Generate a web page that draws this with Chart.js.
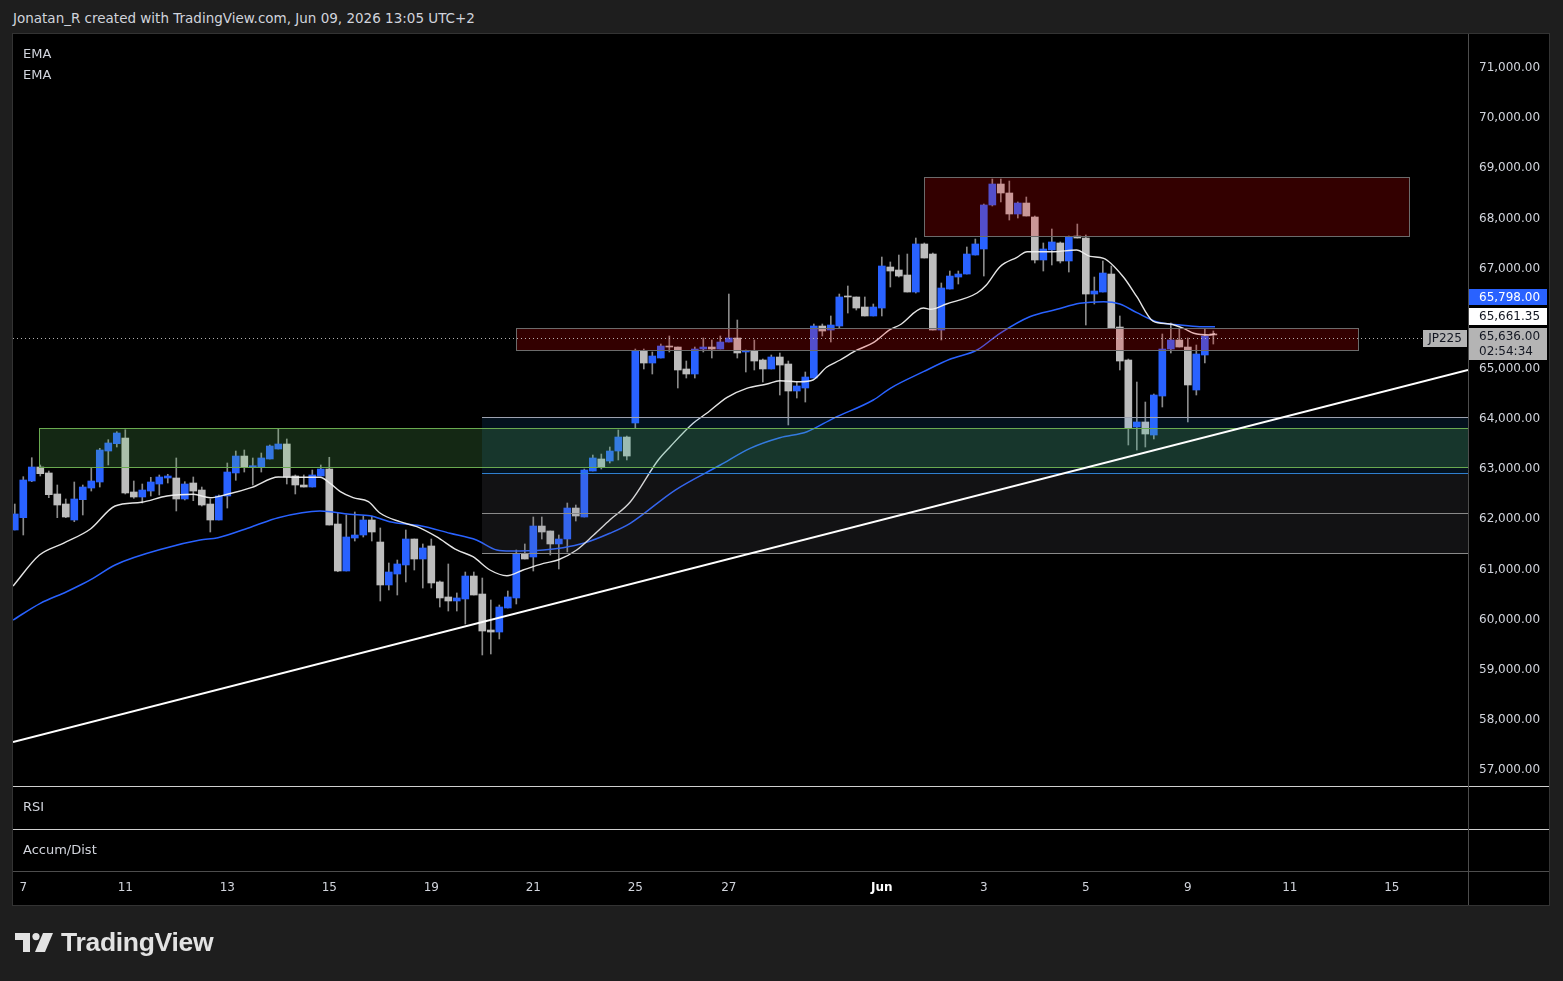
<!DOCTYPE html>
<html>
<head>
<meta charset="utf-8">
<script src="https://cdn.jsdelivr.net/npm/chart.js@4.4.1/dist/chart.umd.min.js"></script>
<style>
  html, body { margin: 0; padding: 0; width: 1563px; height: 981px; overflow: hidden; background: #1e1e1e; font-family: "DejaVu Sans", sans-serif; }
  #frame { position: absolute; left: 12px; top: 33px; width: 1538px; height: 873px; box-sizing: border-box; border: 1px solid #333; background: #000; }
  #wrap { position: absolute; left: 13px; top: 34px; width: 1536px; height: 871px; }
  .txt { position: absolute; color: #d1d4dc; font-size: 13px; line-height: 15px; white-space: nowrap; }
  #header { left: 13px; top: 11px; font-size: 13.5px; color: #d1d4dc; }
  #logo { position: absolute; left: 15px; top: 933px; }
  #logoText { position: absolute; left: 61px; top: 927px; font-family: "Liberation Sans", sans-serif; font-weight: bold; font-size: 26.5px; line-height: 31px; color: #e3e3e3; letter-spacing: -0.3px; }
</style>
</head>
<body>
<div id="header" class="txt">Jonatan_R created with TradingView.com, Jun 09, 2026 13:05 UTC+2</div>
<div id="frame"></div>
<div id="wrap"><canvas id="chart" width="1536" height="871"></canvas></div>
<div class="txt" style="left:23px; top:46px;">EMA</div>
<div class="txt" style="left:23px; top:67px;">EMA</div>
<div class="txt" style="left:23px; top:799px;">RSI</div>
<div class="txt" style="left:23px; top:842px;">Accum/Dist</div>
<svg id="logo" width="40" height="20" viewBox="0 0 40 20">
  <path d="M0 0 H15 V19 H8 V7 H0 Z" fill="#e3e3e3"/>
  <circle cx="21" cy="3.6" r="3.6" fill="#e3e3e3"/>
  <path d="M28 0 H38 L30 19 H20 Z" fill="#e3e3e3"/>
</svg>
<div id="logoText">TradingView</div>

<script>
// Kerzen (4h), Index = Position auf der Zeitachse
const candleOpen = [61746, 61991, 62723, 63002, 62883, 62464, 62264, 61945, 62350, 62583,
  62703, 63321, 63467, 63580, 62504, 62404, 62523, 62663, 62783, 62783,
  62364, 62683, 62543, 62264, 61945, 62424, 62883, 63221, 63002, 63002,
  63162, 63361, 63461, 62823, 62643, 62603, 62823, 62962, 61865, 60928,
  61586, 61646, 61945, 61506, 60649, 60868, 61048, 61566, 61167, 61427,
  60709, 60410, 60330, 60370, 60828, 60469, 59751, 59711, 60190, 60390,
  61267, 61207, 61825, 61726, 61467, 61566, 62184, 62005, 62922, 63162,
  63122, 63321, 63600, 63880, 65316, 65076, 65176, 65415, 65395, 64957,
  64857, 65355, 65395, 65355, 65495, 65575, 65296, 65316, 65136, 64957,
  65196, 65056, 64518, 64578, 64777, 65814, 65734, 65814, 66413, 66393,
  66193, 66014, 66173, 66991, 66931, 66831, 66492, 67450, 67250, 65734,
  66552, 66791, 66851, 67230, 67350, 68228, 68646, 68467, 68048, 68267,
  67988, 67131, 67330, 67470, 67111, 67609, 67569, 66452, 66492, 66851,
  65794, 65136, 63800, 63900, 63640, 64418, 65355, 65535, 65395, 64538,
  65236, 65650];
const candleHigh = [62264, 62809, 63188, 63042, 62922, 62643, 62364, 62703, 62643, 62988,
  63375, 63547, 63706, 63746, 62723, 62663, 62797, 62843, 62857, 63182,
  62709, 62803, 62603, 62364, 62444, 63082, 63321, 63341, 63182, 63281,
  63441, 63760, 63561, 62843, 62843, 62942, 63042, 63196, 62085, 62045,
  62105, 62025, 62025, 61786, 61088, 61147, 61746, 61566, 61467, 61566,
  60729, 61068, 60490, 60908, 60908, 60788, 60350, 60250, 60529, 61347,
  61467, 62005, 62005, 61726, 61646, 62284, 62244, 62962, 63241, 63261,
  63401, 63740, 63620, 65355, 65355, 65296, 65455, 65615, 65395, 65116,
  65395, 65575, 65535, 65615, 66452, 65934, 65336, 65535, 65156, 65236,
  65276, 65116, 64697, 64897, 65854, 65854, 66014, 66452, 66612, 66393,
  66393, 66253, 67190, 67091, 67230, 67250, 67569, 67470, 67270, 66672,
  66911, 66911, 67390, 67549, 68247, 68746, 68746, 68706, 68288, 68387,
  68008, 67470, 67749, 67490, 67609, 67848, 67629, 66791, 67111, 67011,
  66014, 65156, 64697, 64298, 64458, 65655, 65874, 65754, 65575, 65435,
  65754, 65715];
const candleLow = [61746, 61646, 62709, 62823, 62390, 61991, 61991, 61911, 62045, 62523,
  62603, 63042, 63401, 62464, 62378, 62284, 62424, 62444, 62683, 62125,
  62344, 62330, 62224, 61706, 61945, 62184, 62737, 62902, 62643, 62902,
  63162, 63361, 62663, 62464, 62603, 62603, 62823, 61845, 60914, 60928,
  61526, 61606, 61526, 60330, 60549, 60449, 60709, 60948, 60589, 60589,
  60210, 60130, 60130, 59871, 60449, 59253, 59273, 59572, 60190, 60270,
  61167, 60928, 61566, 61247, 60968, 61307, 61925, 62005, 62922, 62962,
  63082, 63142, 63142, 63780, 64957, 64857, 65176, 65296, 64578, 64777,
  64777, 65296, 65176, 65355, 65495, 65176, 64897, 64937, 64697, 64957,
  64438, 63840, 64378, 64298, 64777, 65615, 65495, 65774, 66073, 66133,
  66014, 66014, 66014, 66592, 66791, 66492, 66472, 67170, 65734, 65535,
  66552, 66652, 66851, 67230, 66811, 68208, 68288, 67928, 67968, 68008,
  67071, 66911, 67031, 67071, 66891, 67569, 65834, 66253, 66492, 65774,
  64937, 63441, 63341, 63401, 63561, 64199, 65276, 65395, 63900, 64438,
  65076, 65455];
const candleClose = [62065, 62743, 63002, 62869, 62450, 62244, 62005, 62364, 62603, 62723,
  63341, 63481, 63680, 62484, 62404, 62543, 62703, 62803, 62823, 62364,
  62663, 62523, 62244, 61945, 62424, 62902, 63221, 63002, 63028, 63182,
  63421, 63461, 62803, 62643, 62603, 62843, 62962, 61845, 60928, 61606,
  61646, 61945, 61706, 60649, 60908, 61068, 61566, 61167, 61387, 60689,
  60390, 60330, 60390, 60828, 60449, 59731, 59711, 60210, 60410, 61267,
  61167, 61825, 61706, 61467, 61566, 62184, 62025, 62942, 63182, 63002,
  63321, 63600, 63221, 65316, 65076, 65216, 65415, 65395, 64937, 64857,
  65355, 65395, 65355, 65495, 65575, 65276, 65316, 65116, 64957, 65196,
  65036, 64518, 64618, 64797, 65814, 65714, 65834, 66393, 66393, 66173,
  66014, 66193, 67011, 66911, 66811, 66492, 67450, 67170, 65734, 66572,
  66811, 66851, 67250, 67450, 68228, 68646, 68467, 68048, 68267, 68008,
  67131, 67350, 67490, 67111, 67589, 67569, 66452, 66512, 66871, 65774,
  65116, 63780, 63900, 63660, 64438, 65355, 65535, 65395, 64638, 65256,
  65615, 65636];

// EMA-Linien (x = Kerzenindex)
const emaFastX = [-0.2, 2.9, 5.7, 8.9, 11.8, 14.9, 17.9, 21, 23, 25, 27.9, 31, 33, 35.9, 37.1, 38.3,
  39.8, 41.6, 43, 45.3, 47.3, 49.6, 52, 53.9, 55.9, 57.9, 59.8, 62.2, 63.9, 66.1, 68.1, 70, 72.4,
  75.7, 77.1, 79.8, 81.4, 83.8, 86.1, 88.5, 90, 92.4, 93.9, 95.5, 97.1, 99.1, 101, 103, 104.1,
  106.9, 107.7, 109.6, 113.2, 114.3, 115.9, 117.9, 119.1, 122.2, 124.9, 126.5, 128.1, 130.4, 132,
  133.9, 135.9, 137.5, 138.7, 140.6, 141.2];
const emaFastY = [60629, 61247, 61480, 61766, 62224, 62298, 62424, 62458, 62390, 62458, 62597, 62803,
  62797, 62797, 62677, 62510, 62390, 62310, 62079, 61911, 61812, 61612, 61347, 61213, 60948, 60834,
  60948, 61081, 61147, 61347, 61646, 61945, 62304, 63142, 63407, 63874, 64073, 64392, 64572, 64658,
  64723, 64703, 64737, 64991, 65136, 65336, 65481, 65748, 65834, 66173, 66147, 66253, 66472, 66632,
  66997, 67184, 67296, 67296, 67330, 67204, 67164, 66797, 66399, 65914, 65854, 65768, 65669, 65635,
  65661];
const emaSlowX = [-0.2, 3, 6.1, 7.9, 9.2, 11.8, 17.9, 21.8, 23.9, 27.9, 31, 35.9, 39.4, 41.8, 44.1,
  47.7, 51.2, 54.3, 56.7, 58.3, 62.2, 64.5, 66.9, 70, 72.4, 77.7, 83, 86.5, 90, 93.2, 96.3, 101, 103,
  106.9, 110, 113.2, 115.9, 119.4, 122.6, 125.3, 128.1, 130, 132, 134.3, 137.1, 139.4, 141.2];
const emaSlowY = [59951, 60284, 60515, 60663, 60782, 61048, 61393, 61546, 61592, 61812, 61991, 62125,
  62059, 62031, 61911, 61831, 61680, 61546, 61347, 61327, 61347, 61393, 61480, 61680, 61879, 62543,
  63042, 63375, 63587, 63706, 63973, 64338, 64572, 64903, 65150, 65336, 65669, 66000, 66147, 66267,
  66299, 66253, 66080, 65900, 65834, 65800, 65798];

// Trendlinie
const trendX = [-0.21, 170.96];
const trendY = [57518, 64937];

// Zonen: oben rot, Mitte rot, grün
const boxStart = [106.96, 59.02, 2.85];
const boxEnd = [164.07, 158.02, 171];
const boxHigh = [68786, 65774, 63780];
const boxLow = [67609, 65336, 63002];

// graue Ebenen rechts
const levelStart = 54.96;
const levelPrices = [64000, 62883, 62085, 61287];

// Achsen
const priceTicks = [57000, 58000, 59000, 60000, 61000, 62000, 63000, 64000, 65000, 66000, 67000, 68000, 69000, 70000, 71000];
const dayTickIndex = [1, 13, 25, 37, 49, 61, 73, 84, 102, 114, 126, 138, 150, 162];
const dayTickLabels = ['7', '11', '13', '15', '19', '21', '25', '27', 'Jun', '3', '5', '9', '11', '15'];

// Preis-Labels rechts
const lastPrice = 65636;
const emaFastLast = 65661.35;
const emaSlowLast = 65798;
const countdown = '02:54:34';
const symbol = 'JP225';

const X_MIN = -0.21, X_MAX = 170.96;
const Y_MIN = 56640, Y_MAX = 71638;
const LABEL_SHIFT = 2; // Textlabels sitzen etwas unter dem Preis
const UP = '#2962ff', DOWN = '#bdbdbd', WICK = '#8a8a8a';
const FONT = '"DejaVu Sans", sans-serif';

const fmt = (v, d = 2) => Number(v).toLocaleString('en-US', { minimumFractionDigits: d, maximumFractionDigits: d });

const bodyData = candleOpen.map((o, i) => ({ x: i, y: [o, candleClose[i]] }));
const wickData = candleOpen.map((o, i) => ({ x: i, y: [candleLow[i], candleHigh[i]] }));
const bodyColors = candleOpen.map((o, i) => candleClose[i] >= o ? UP : DOWN);
const pts = (xs, ys) => xs.map((x, i) => ({ x: x, y: ys[i] }));

function hLine(ctx, x0, x1, y, color, dash) {
  ctx.save();
  ctx.strokeStyle = color;
  ctx.lineWidth = 1;
  if (dash) ctx.setLineDash(dash);
  const yy = Math.round(y) + 0.5;
  ctx.beginPath(); ctx.moveTo(x0, yy); ctx.lineTo(x1, yy); ctx.stroke();
  ctx.restore();
}

function drawZones(chart) {
  const { ctx, chartArea: a, scales: { x, y } } = chart;
  ctx.save();
  ctx.beginPath(); ctx.rect(a.left, a.top, a.right - a.left, a.bottom - a.top); ctx.clip();

  // graue Ebenen
  const lx = Math.round(x.getPixelForValue(levelStart));
  const ly = levelPrices.map(p => Math.round(y.getPixelForValue(p)));
  ctx.fillStyle = 'rgba(33,150,243,0.12)';
  ctx.fillRect(lx, ly[0], a.right - lx, ly[1] - ly[0]);
  ctx.fillStyle = 'rgba(120,123,134,0.15)';
  ctx.fillRect(lx, ly[1], a.right - lx, ly[3] - ly[1]);
  const levelColors = ['#9ea2b0', '#2f7fd0', '#8a8a8a', '#8a8a8a'];
  ly.forEach((yy, i) => hLine(ctx, lx, a.right, yy, levelColors[i]));

  // Rechtecke (grün zuerst, dann rot)
  const fills = ['rgba(255,0,0,0.2)', 'rgba(255,0,0,0.2)', 'rgba(100,200,100,0.2)'];
  const strokes = ['#6b6b6b', '#6b6b6b', '#6aaa50'];
  [2, 1, 0].forEach(i => {
    const x0 = Math.round(x.getPixelForValue(boxStart[i]));
    const x1 = Math.round(x.getPixelForValue(boxEnd[i]));
    const y0 = Math.round(y.getPixelForValue(boxHigh[i]));
    const y1 = Math.round(y.getPixelForValue(boxLow[i]));
    ctx.fillStyle = fills[i];
    ctx.fillRect(x0, y0, x1 - x0, y1 - y0);
    ctx.strokeStyle = strokes[i];
    ctx.lineWidth = 1;
    ctx.strokeRect(x0 + 0.5, y0 + 0.5, x1 - x0, y1 - y0);
  });

  // gepunktete Linie des letzten Kurses
  const py = y.getPixelForValue(lastPrice) + LABEL_SHIFT + 1;
  hLine(ctx, a.left, a.right - 45, py, 'rgba(210,210,210,0.85)', [1, 3]);
  ctx.restore();
}

function tag(ctx, x0, w, yTop, h, bg, fg, lines) {
  ctx.fillStyle = bg;
  ctx.fillRect(x0, yTop, w, h);
  ctx.fillStyle = fg;
  ctx.font = '12px ' + FONT;
  ctx.textBaseline = 'middle';
  ctx.textAlign = 'left';
  lines.forEach((t, i) => ctx.fillText(t, x0 + 10, yTop + 8.5 + i * 15));
}

const overlayPlugin = {
  id: 'overlay',
  afterDatasetDraw(chart, args) {
    if (args.index === 1) drawZones(chart);
  },
  afterDraw(chart) {
    const { ctx, chartArea: a, scales: { y } } = chart;
    const W = chart.width, H = chart.height;
    // Trennlinien der Unterfenster
    ctx.save();
    hLine(ctx, 0, W, a.bottom, '#cfcfcf');
    hLine(ctx, 0, W, a.bottom + 43, '#cfcfcf');
    hLine(ctx, 0, W, a.bottom + 85, '#4d4d4d');
    ctx.strokeStyle = '#4d4d4d';
    ctx.beginPath(); ctx.moveTo(a.right + 0.5, 0); ctx.lineTo(a.right + 0.5, H); ctx.stroke();

    // Preis-Labels, von unten nach oben gestapelt
    const x0 = a.right + 1, w = 78;
    const lastY = Math.round(y.getPixelForValue(lastPrice)) + LABEL_SHIFT;
    const greyTop = lastY - 9;
    tag(ctx, x0, w, greyTop, 32, '#b4b4b4', '#131722', [fmt(lastPrice), countdown]);
    const fastTop = Math.min(Math.round(y.getPixelForValue(emaFastLast)) + LABEL_SHIFT - 8, greyTop - 20);
    tag(ctx, x0, w, fastTop, 17, '#ffffff', '#131722', [fmt(emaFastLast)]);
    const slowTop = Math.min(Math.round(y.getPixelForValue(emaSlowLast)) + LABEL_SHIFT - 8, fastTop - 19);
    tag(ctx, x0, w, slowTop, 16, UP, '#ffffff', [fmt(emaSlowLast)]);

    // Symbol-Label
    ctx.fillStyle = '#b4b4b4';
    ctx.fillRect(a.right - 45, lastY - 7, 44, 17);
    ctx.fillStyle = '#131722';
    ctx.font = '12px ' + FONT;
    ctx.textAlign = 'center';
    ctx.textBaseline = 'middle';
    ctx.fillText(symbol, a.right - 23, lastY + 1.5);
    ctx.restore();
  }
};

const noPad = s => { s.paddingLeft = 0; s.paddingRight = 0; s.paddingTop = 0; s.paddingBottom = 0; };

new Chart(document.getElementById('chart').getContext('2d'), {
  type: 'bar',
  data: {
    datasets: [
      { type: 'line', data: pts(trendX, trendY), borderColor: '#ffffff', borderWidth: 2, pointRadius: 0, order: 0 },
      { type: 'line', data: pts(emaFastX, emaFastY), borderColor: 'rgba(240,240,240,0.95)', borderWidth: 1.4,
        pointRadius: 0, cubicInterpolationMode: 'monotone', order: 1 },
      { type: 'line', data: pts(emaSlowX, emaSlowY), borderColor: '#2962ff', borderWidth: 1.5,
        pointRadius: 0, cubicInterpolationMode: 'monotone', order: 2 },
      { type: 'bar', data: bodyData, backgroundColor: bodyColors, barThickness: 7, minBarLength: 1,
        grouped: false, borderWidth: 0, order: 3 },
      { type: 'bar', data: wickData, backgroundColor: WICK, barThickness: 1, grouped: false, borderWidth: 0, order: 4 }
    ]
  },
  options: {
    responsive: false,
    animation: false,
    events: [],
    layout: { padding: 0 },
    plugins: { legend: { display: false }, tooltip: { enabled: false } },
    scales: {
      x: {
        type: 'linear', min: X_MIN, max: X_MAX, offset: false,
        grid: { display: false, drawTicks: false }, border: { display: false },
        afterBuildTicks: s => { s.ticks = dayTickIndex.map(v => ({ value: v })); },
        afterFit: s => { s.height = 119; noPad(s); },
        ticks: {
          padding: 95, maxRotation: 0, autoSkip: false,
          color: c => dayTickLabels[c.index] === 'Jun' ? '#ffffff' : '#d1d4dc',
          font: c => ({ family: FONT, size: 12, weight: dayTickLabels[c.index] === 'Jun' ? 'bold' : 'normal' }),
          callback: (v, i) => dayTickLabels[i]
        }
      },
      y: {
        position: 'right', min: Y_MIN, max: Y_MAX,
        grid: { display: false, drawTicks: false }, border: { display: false },
        afterBuildTicks: s => { s.ticks = priceTicks.map(v => ({ value: v })); },
        afterFit: s => { s.width = 81; noPad(s); },
        ticks: { padding: 11, labelOffset: LABEL_SHIFT, color: '#d1d4dc', font: { family: FONT, size: 12 }, callback: v => fmt(v) }
      }
    }
  },
  plugins: [overlayPlugin]
});
</script>
</body>
</html>
